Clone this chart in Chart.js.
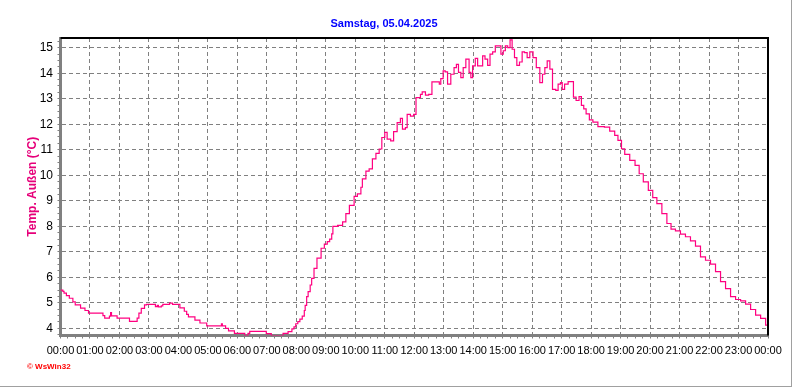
<!DOCTYPE html>
<html>
<head>
<meta charset="utf-8">
<script src="https://cdn.jsdelivr.net/npm/chart.js@4.4.1/dist/chart.umd.min.js"></script>
<style>
    body { margin: 0; background: #fff; }
    #wrap { width: 791px; height: 386px; border-right: 1px solid #a0a0a0; border-bottom: 1px solid #a0a0a0; }
</style>
</head>
<body>
<div id="wrap"><canvas id="tempChart" width="791" height="386"></canvas></div>
<script>
const chartTitle = 'Samstag, 05.04.2025';
const yAxisTitle = 'Temp. Außen (°C)';
const xTickLabels = ['00:00', '01:00', '02:00', '03:00', '04:00', '05:00', '06:00', '07:00', '08:00', '09:00', '10:00', '11:00',
    '12:00', '13:00', '14:00', '15:00', '16:00', '17:00', '18:00', '19:00', '20:00', '21:00', '22:00', '23:00', '00:00'];
const yTicks = [4, 5, 6, 7, 8, 9, 10, 11, 12, 13, 14, 15];

// time of day in hours, temperature in °C
const hours = [0, 0.08, 0.12, 0.2, 0.3, 0.42, 0.5, 0.68, 0.83, 0.95, 1.44, 1.5, 1.66, 1.7, 1.73, 1.92, 2.34, 2.6, 2.66, 2.74,
    2.85, 2.92, 3.22, 3.28, 3.32, 3.42, 3.47, 3.7, 3.8, 4.05, 4.2, 4.28, 4.34, 4.56, 4.73, 4.96, 5.46, 5.49, 5.6, 5.7,
    5.9, 6.25, 6.36, 6.42, 6.98, 7.15, 7.55, 7.72, 7.85, 7.92, 7.98, 8.05, 8.12, 8.2, 8.27, 8.3, 8.35, 8.4, 8.47, 8.52,
    8.6, 8.7, 8.84, 8.95, 9.05, 9.13, 9.2, 9.24, 9.4, 9.57, 9.68, 9.8, 9.96, 10.07, 10.19, 10.24, 10.36, 10.47, 10.58, 10.7,
    10.81, 10.9, 11.0, 11.08, 11.2, 11.3, 11.42, 11.53, 11.6, 11.7, 11.76, 11.87, 11.98, 12.06, 12.21, 12.27, 12.38, 12.49, 12.6, 12.74,
    12.85, 12.9, 12.98, 13.05, 13.13, 13.24, 13.35, 13.43, 13.5, 13.58, 13.66, 13.75, 13.86, 13.92, 13.98, 14.07, 14.15, 14.32, 14.4, 14.49,
    14.57, 14.66, 14.75, 14.94, 15.02, 15.09, 15.17, 15.25, 15.32, 15.4, 15.48, 15.57, 15.66, 15.74, 15.83, 15.92, 16.03, 16.14, 16.26, 16.35,
    16.43, 16.51, 16.6, 16.69, 16.8, 16.88, 16.96, 17.02, 17.1, 17.22, 17.4,
    17.49, 17.59, 17.67, 17.75, 17.83, 17.94, 18.06, 18.23, 18.45, 18.63, 18.8, 18.91, 19.03, 19.14, 19.31, 19.49, 19.63, 19.77, 19.94, 20.09,
    20.23, 20.4, 20.57, 20.71, 20.86, 21.03, 21.2, 21.37, 21.54, 21.71, 21.88, 22.05, 22.22, 22.39, 22.56, 22.73, 22.9, 23.07, 23.24, 23.41,
    23.58, 23.75, 23.92, 24.0];
const temps = [5.5, 5.45, 5.38, 5.28, 5.18, 5.04, 4.92, 4.79, 4.7, 4.6, 4.5, 4.4, 4.48, 4.62, 4.49, 4.4, 4.27, 4.4, 4.6, 4.78,
    4.92, 4.94, 4.85, 4.9, 4.84, 4.88, 4.94, 4.99, 4.94, 4.8, 4.67, 4.55, 4.45, 4.32, 4.21, 4.1, 4.18, 4.1, 4.0, 3.9,
    3.8, 3.71, 3.8, 3.88, 3.79, 3.71, 3.8, 3.87, 3.98, 4.06, 4.18, 4.26, 4.36, 4.48, 4.7, 4.9, 5.24, 5.44, 5.7, 5.96,
    6.35, 6.75, 7.14, 7.3, 7.4, 7.5, 7.7, 8.0, 8.04, 8.17, 8.5, 8.82, 9.17, 9.27, 9.53, 9.86, 10.16, 10.25, 10.64, 10.86,
    11.03, 11.48, 11.68, 11.42, 11.35, 11.71, 12.06, 12.23, 11.81, 11.87, 12.39, 12.32, 12.39, 13.04, 13.17, 13.27, 13.14, 13.17, 13.66, 13.66,
    13.57, 13.79, 14.09, 14.05, 13.57, 13.96, 14.22, 14.35, 14.03, 13.83, 14.22, 14.55, 14.03, 13.83, 14.29, 14.58, 14.29, 14.68, 14.55, 14.31,
    14.75, 14.84, 15.07, 14.75, 14.88, 15.07, 15.0, 15.31, 14.94, 14.61, 14.31, 14.44, 14.84, 14.81, 14.61, 14.84, 14.61, 14.22, 13.63, 13.96,
    14.22, 14.48, 14.16, 13.37, 13.33, 13.57, 13.63, 13.37, 13.57, 13.67, 13.06,
    12.93, 13.08, 12.74, 12.6, 12.41, 12.17, 12.08, 11.91, 11.89, 11.73, 11.56, 11.37, 11.04, 10.82, 10.58, 10.39, 10.06, 9.74, 9.41, 9.12,
    8.89, 8.5, 8.11, 7.89, 7.82, 7.69, 7.59, 7.43, 7.22, 6.8, 6.67, 6.52, 6.22, 5.83, 5.56, 5.24, 5.13, 5.08, 4.95, 4.74,
    4.52, 4.39, 4.13, 4.04];

const FONT = "'Liberation Sans', Arial, sans-serif";

// hour ticks plus 15 minute minor ticks, minor ticks get no label and no grid line
function quarterTicks(from, to) {
    const list = [];
    for (let v = from * 4; v <= to * 4; v++) list.push({ value: v / 4 });
    return list;
}
const isMajor = v => Math.abs(v - Math.round(v)) < 1e-6;

// top and right frame lines plus the small WsWin32 mark
const framePlugin = {
    id: 'frame',
    afterDraw(chart) {
        const { ctx, chartArea } = chart;
        ctx.save();
        ctx.strokeStyle = '#000';
        ctx.lineWidth = 2;
        ctx.beginPath();
        ctx.moveTo(chartArea.left, chartArea.top);
        ctx.lineTo(chartArea.right, chartArea.top);
        ctx.lineTo(chartArea.right, chartArea.bottom);
        ctx.stroke();
        ctx.fillStyle = '#ff0000';
        ctx.font = 'bold 8px ' + FONT;
        ctx.textBaseline = 'middle';
        ctx.fillText('© WsWin32', 27, 367);
        ctx.restore();
    }
};

const chart = new Chart(document.getElementById('tempChart').getContext('2d'), {
    type: 'line',
    data: {
        datasets: [{
            data: hours.map((h, i) => ({ x: h, y: temps[i] })),
            borderColor: '#ff0080',
            borderWidth: 1.2,
            pointRadius: 0,
            stepped: true,
            fill: false
        }]
    },
    plugins: [framePlugin],
    options: {
        responsive: false,
        animation: false,
        devicePixelRatio: 1,
        layout: { padding: { left: 0, right: 23, top: 0, bottom: 0 } },
        scales: {
            x: {
                type: 'linear',
                min: 0,
                max: 24,
                afterBuildTicks: s => { s.ticks = quarterTicks(0, 24); },
                afterFit: s => { s.height = 50.5; },
                ticks: {
                    autoSkip: false,
                    maxRotation: 0,
                    minRotation: 0,
                    padding: 6,
                    color: '#000',
                    font: { family: FONT, size: 11 },
                    callback: v => isMajor(v) ? xTickLabels[Math.round(v)] : ''
                },
                grid: {
                    color: c => (c.tick && isMajor(c.tick.value)) ? '#808080' : 'rgba(0,0,0,0)',
                    lineWidth: 1,
                    tickColor: '#808080',
                    tickLength: 3,
                    tickWidth: 1
                },
                border: { display: true, color: '#808080', width: 3, dash: [4, 3] }
            },
            y: {
                type: 'linear',
                min: 3.72,
                max: 15.38,
                afterBuildTicks: s => { s.ticks = quarterTicks(3.75, 15.25); },
                afterFit: s => { s.width = 60.5; },
                ticks: {
                    autoSkip: false,
                    padding: 4.5,
                    color: '#000',
                    font: { family: FONT, size: 12 },
                    callback: v => (isMajor(v) && yTicks.includes(Math.round(v))) ? String(Math.round(v)) : ''
                },
                grid: {
                    color: c => (c.tick && isMajor(c.tick.value)) ? '#808080' : 'rgba(0,0,0,0)',
                    lineWidth: 1,
                    tickColor: '#808080',
                    tickLength: 3,
                    tickWidth: 1
                },
                border: { display: true, color: '#808080', width: 3, dash: [4, 3] },
                title: {
                    display: true,
                    text: yAxisTitle,
                    color: '#e6007a',
                    font: { family: FONT, size: 12, weight: 'bold' },
                    padding: { top: 25, bottom: 0 }
                }
            }
        },
        plugins: {
            legend: { display: false },
            tooltip: { enabled: false },
            title: {
                display: true,
                text: chartTitle,
                color: '#0000ff',
                font: { family: FONT, size: 11, weight: 'bold' },
                padding: { top: 17.4, bottom: 7.4 }
            }
        }
    }
});
</script>
</body>
</html>
